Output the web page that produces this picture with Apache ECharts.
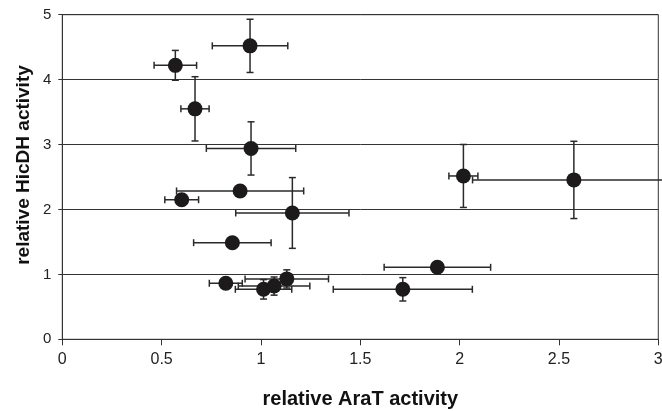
<!DOCTYPE html>
<html>
<head>
<meta charset="utf-8">
<script src="https://cdn.jsdelivr.net/npm/echarts@6/dist/echarts.min.js"></script>
<style>
html,body{margin:0;padding:0;background:#fff;}
#chart{width:662px;height:411px;}
</style>
</head>
<body>
<div id="chart"></div>
<script>
const xValues = [0.945, 0.569, 0.668, 0.950, 0.895, 0.601, 1.158, 0.856, 0.823, 1.013, 1.066, 1.130, 1.888, 1.714, 2.019, 2.575];
const yValues = [4.52, 4.22, 3.55, 2.94, 2.285, 2.15, 1.946, 1.488, 0.863, 0.77, 0.82, 0.93, 1.109, 0.770, 2.516, 2.455];
const xErrors = [0.19, 0.107, 0.071, 0.225, 0.32, 0.085, 0.285, 0.195, 0.083, 0.142, 0.18, 0.21, 0.268, 0.35, 0.073, 0.51];
const yErrors = [0.41, 0.23, 0.495, 0.41, 0.03, 0.08, 0.545, 0.03, 0.05, 0.15, 0.14, 0.14, 0.07, 0.18, 0.485, 0.595];
const xTicks = [0, 0.5, 1, 1.5, 2, 2.5, 3];
const yTicks = [0, 1, 2, 3, 4, 5];
const xTitle = 'relative AraT activity';
const yTitle = 'relative HicDH activity';

const points = xValues.map((x, i) => [x, yValues[i]]);
const errData = xValues.map((x, i) => [x, yValues[i], xErrors[i], yErrors[i]]);

const chart = echarts.init(document.getElementById('chart'), null, {renderer: 'canvas'});
const lineStyle = {stroke: '#2a2a2a', lineWidth: 1.5};
const cap = 3.5;

chart.setOption({
  animation: false,
  grid: {left: 62.3, right: 3.7, top: 14.7, bottom: 71.7, show: true, borderColor: '#333', borderWidth: 1,
    containLabel: false, outerBoundsMode: 'none'},
  graphic: [{
    type: 'text',
    x: 24, y: 165,
    rotation: Math.PI / 2,
    style: {
      text: yTitle,
      textAlign: 'center', textVerticalAlign: 'middle',
      fontFamily: 'Liberation Sans', fontWeight: 'bold', fontSize: 19, fill: '#111'
    }
  }],
  xAxis: {
    type: 'value', min: 0, max: 3, interval: 0.5,
    name: xTitle, nameLocation: 'middle', nameGap: 50,
    nameTextStyle: {fontFamily: 'Liberation Sans', fontWeight: 'bold', fontSize: 20, color: '#111'},
    axisLine: {show: true, lineStyle: {color: '#333', width: 1}},
    axisTick: {show: true, length: 6, lineStyle: {color: '#333'}},
    axisLabel: {fontFamily: 'Liberation Sans', fontSize: 16, color: '#222', margin: 12,
      formatter: v => xTicks.includes(v) ? String(v) : ''},
    splitLine: {show: false}
  },
  yAxis: {
    type: 'value', min: 0, max: 5, interval: 1,
    axisLine: {show: true, lineStyle: {color: '#333', width: 1}},
    axisTick: {show: true, length: 4, lineStyle: {color: '#333'}},
    axisLabel: {fontFamily: 'Liberation Sans', fontSize: 15, color: '#222', margin: 11,
      formatter: v => yTicks.includes(v) ? String(v) : ''},
    splitLine: {show: true, lineStyle: {color: '#333', width: 1}}
  },
  series: [
    {
      type: 'custom',
      z: 2,
      clip: false,
      data: errData,
      renderItem: function (params, api) {
        const x = api.value(0), y = api.value(1), xe = api.value(2), ye = api.value(3);
        const l = api.coord([x - xe, y]);
        const r = api.coord([x + xe, y]);
        const t = api.coord([x, y + ye]);
        const b = api.coord([x, y - ye]);
        const line = (x1, y1, x2, y2) => ({type: 'line', shape: {x1, y1, x2, y2}, style: lineStyle});
        return {
          type: 'group',
          children: [
            line(l[0], l[1], r[0], r[1]),
            line(l[0], l[1] - cap, l[0], l[1] + cap),
            line(r[0], r[1] - cap, r[0], r[1] + cap),
            line(t[0], t[1], b[0], b[1]),
            line(t[0] - cap, t[1], t[0] + cap, t[1]),
            line(b[0] - cap, b[1], b[0] + cap, b[1])
          ]
        };
      }
    },
    {
      type: 'scatter',
      z: 3,
      symbol: 'circle',
      symbolSize: 15,
      data: points,
      itemStyle: {color: '#1c1a1b', opacity: 1}
    }
  ]
});
</script>
</body>
</html>
